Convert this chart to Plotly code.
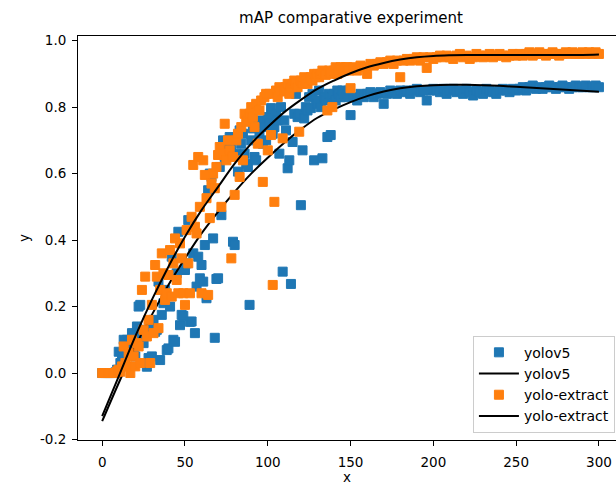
import plotly.graph_objects as go

# epochs
epochs_early = list(range(0, 151))
epochs_late = list(range(152, 301, 2))

yolov5_early = [
    0.0, 0.0, 0.0, 0.0, 0.0, 0.0, 0.0, 0.0, 0.002, 0.01,
    0.064, 0.03, 0.05, 0.10, 0.08, 0.10, 0.094, 0.06, 0.12, 0.07,
    0.05, 0.14, 0.20, 0.205, 0.11, 0.09, 0.13, 0.019, 0.045, 0.15,
    0.05, 0.16, 0.124, 0.13, 0.275, 0.039, 0.175, 0.21, 0.25, 0.069,
    0.074, 0.20, 0.35, 0.10, 0.094, 0.30, 0.425, 0.144, 0.175, 0.172,
    0.31, 0.33, 0.46, 0.154, 0.155, 0.36, 0.12, 0.26, 0.35, 0.285,
    0.325, 0.275, 0.385, 0.225, 0.55, 0.60, 0.59, 0.405, 0.106, 0.283,
    0.285, 0.62, 0.475, 0.70, 0.65, 0.69, 0.67, 0.71, 0.68, 0.395,
    0.385, 0.66, 0.606, 0.73, 0.69, 0.72, 0.66, 0.63, 0.62, 0.205,
    0.70, 0.736, 0.65, 0.64, 0.75, 0.72, 0.76, 0.69, 0.74, 0.70,
    0.77, 0.75, 0.797, 0.72, 0.74, 0.78, 0.76, 0.66, 0.80, 0.305,
    0.76, 0.73, 0.616, 0.64, 0.268, 0.695, 0.78, 0.84, 0.77, 0.78,
    0.505, 0.67, 0.766, 0.80, 0.79, 0.83, 0.797, 0.84, 0.64, 0.82,
    0.81, 0.85, 0.80, 0.646, 0.83, 0.82, 0.71, 0.84, 0.716, 0.83,
    0.84, 0.82, 0.85, 0.84, 0.83, 0.85, 0.84, 0.83, 0.84, 0.85,
    0.776,
]
yolov5_late = [
    0.83, 0.82, 0.84, 0.83, 0.84, 0.845, 0.83, 0.84, 0.845, 0.81,
    0.84, 0.85, 0.845, 0.84, 0.85, 0.845, 0.85, 0.84, 0.85, 0.855,
    0.845, 0.85, 0.82, 0.85, 0.855,
    0.85, 0.845, 0.855, 0.84, 0.85, 0.855, 0.845, 0.85, 0.84, 0.855,
    0.845, 0.835, 0.85, 0.845, 0.84, 0.855, 0.85, 0.845, 0.84, 0.85,
    0.855, 0.85, 0.845, 0.855, 0.85,
    0.855, 0.86, 0.85, 0.86, 0.865, 0.855, 0.86, 0.855, 0.86, 0.865,
    0.86, 0.855, 0.86, 0.865, 0.86, 0.855, 0.86, 0.865, 0.86, 0.86,
    0.865, 0.86, 0.86, 0.865, 0.86,
]

extract_early = [
    0.0, 0.0, 0.0, 0.0, 0.0, 0.0, 0.0, 0.0, 0.0, 0.005,
    0.01, 0.004, 0.02, 0.08, 0.03, 0.02, 0.06, 0.0, 0.10, 0.05,
    0.02, 0.09, 0.08, 0.03, 0.25, 0.13, 0.29, 0.11, 0.16, 0.03,
    0.205, 0.12, 0.325, 0.29, 0.135, 0.25, 0.36, 0.30, 0.22, 0.24,
    0.295, 0.37, 0.23, 0.33, 0.405, 0.28, 0.24, 0.39, 0.345, 0.24,
    0.205, 0.43, 0.33, 0.24, 0.47, 0.626, 0.44, 0.42, 0.65, 0.50,
    0.24, 0.64, 0.596, 0.526, 0.235, 0.466, 0.57, 0.60, 0.556, 0.62,
    0.656, 0.68, 0.50, 0.66, 0.75, 0.64, 0.70, 0.67, 0.345, 0.65,
    0.536, 0.70, 0.72, 0.59, 0.74, 0.64, 0.78, 0.756, 0.76, 0.78,
    0.80, 0.77, 0.74, 0.81, 0.69, 0.79, 0.82, 0.575, 0.83, 0.84,
    0.67, 0.84, 0.716, 0.265, 0.515, 0.85, 0.83, 0.86, 0.847, 0.706,
    0.85, 0.86, 0.87, 0.84, 0.86, 0.87, 0.88, 0.872, 0.86, 0.726,
    0.88, 0.87, 0.89, 0.88, 0.87, 0.887, 0.89, 0.88, 0.90, 0.89,
    0.90, 0.89, 0.90, 0.91, 0.90, 0.897, 0.79, 0.91, 0.90, 0.80,
    0.91, 0.92, 0.90, 0.91, 0.92, 0.912, 0.91, 0.92, 0.92, 0.91,
    0.857,
]
extract_late = [
    0.92, 0.91, 0.925, 0.92, 0.90, 0.93, 0.925, 0.93, 0.935, 0.93,
    0.935, 0.94, 0.93, 0.94, 0.89, 0.94, 0.945, 0.94, 0.945, 0.95,
    0.94, 0.95, 0.918, 0.95, 0.945,
    0.95, 0.955, 0.95, 0.955, 0.95, 0.945, 0.955, 0.96, 0.95, 0.955,
    0.945, 0.95, 0.96, 0.955, 0.95, 0.955, 0.96, 0.95, 0.955, 0.96,
    0.955, 0.95, 0.955, 0.96, 0.955,
    0.96, 0.955, 0.96, 0.965, 0.955, 0.96, 0.965, 0.96, 0.955, 0.96,
    0.965, 0.96, 0.955, 0.96, 0.965, 0.96, 0.965, 0.96, 0.96, 0.965,
    0.96, 0.965, 0.96, 0.965, 0.96,
]

# fitted curves
fit_x = list(range(0, 301, 10))
yolov5_fit = [-0.145, -0.03, 0.08, 0.175, 0.265, 0.345, 0.42, 0.485, 0.545, 0.60,
              0.648, 0.693, 0.733, 0.768, 0.793, 0.815, 0.833, 0.847, 0.857, 0.863,
              0.866, 0.867, 0.867, 0.866, 0.864, 0.861, 0.858, 0.855, 0.852, 0.849,
              0.846]
extract_fit = [-0.13, -0.01, 0.11, 0.22, 0.32, 0.41, 0.49, 0.56, 0.63, 0.69,
               0.74, 0.785, 0.822, 0.855, 0.88, 0.902, 0.92, 0.933, 0.943, 0.950,
               0.954, 0.956, 0.957, 0.957, 0.957, 0.957, 0.957, 0.957, 0.957, 0.957,
               0.958]

x_ticks = [0, 50, 100, 150, 200, 250, 300]
y_ticks = [-0.2, 0.0, 0.2, 0.4, 0.6, 0.8, 1.0]
y_tick_text = ["-0.2", "0.0", "0.2", "0.4", "0.6", "0.8", "1.0"]

BLUE = "#1f77b4"
ORANGE = "#ff7f0e"
FONT = "DejaVu Sans"

epochs = epochs_early + epochs_late

fig = go.Figure()
fig.add_trace(go.Scatter(x=epochs, y=yolov5_early + yolov5_late, mode="markers",
                         name="yolov5",
                         marker=dict(symbol="square", size=9, color=BLUE,
                                     line=dict(color=BLUE, width=1))))
fig.add_trace(go.Scatter(x=fit_x, y=yolov5_fit, mode="lines", name="yolov5",
                         line=dict(color="black", width=2, shape="spline")))
fig.add_trace(go.Scatter(x=epochs, y=extract_early + extract_late, mode="markers",
                         name="yolo-extract",
                         marker=dict(symbol="square", size=9, color=ORANGE,
                                     line=dict(color=ORANGE, width=1))))
fig.add_trace(go.Scatter(x=fit_x, y=extract_fit, mode="lines", name="yolo-extract",
                         line=dict(color="black", width=2, shape="spline")))

axis_common = dict(showgrid=False, zeroline=False, showline=True, linecolor="black",
                   linewidth=1, ticks="outside", ticklen=5, tickwidth=1,
                   tickcolor="black", automargin=False,
                   tickfont=dict(family=FONT, size=13.5, color="black"))

fig.update_layout(
    width=616, height=485,
    margin=dict(l=78, r=0, t=36, b=45),
    paper_bgcolor="white", plot_bgcolor="white",
    font=dict(family=FONT, size=13, color="black"),
    title=dict(text="mAP comparative experiment", x=351 / 616, xref="container",
               xanchor="center", y=1 - 18 / 485, yanchor="middle",
               font=dict(family=FONT, size=15, color="black")),
    xaxis=dict(range=[-14.6, 310.3], tickvals=x_ticks, mirror=True,
               ticklabelstandoff=5,
               title=dict(text="x", font=dict(family=FONT, size=13.5), standoff=3),
               **axis_common),
    yaxis=dict(range=[-0.2015, 1.014], tickvals=y_ticks, ticktext=y_tick_text,
               ticklabelstandoff=3,
               title=dict(text="y", font=dict(family=FONT, size=13.5), standoff=7),
               **axis_common),
    showlegend=True,
    legend=dict(x=0.998, y=0.018, xanchor="right", yanchor="bottom",
                itemwidth=40,
                bgcolor="rgba(255,255,255,0.8)", bordercolor="#cccccc", borderwidth=1,
                font=dict(family=FONT, size=14, color="black")),
)

fig.write_html("out.html")
